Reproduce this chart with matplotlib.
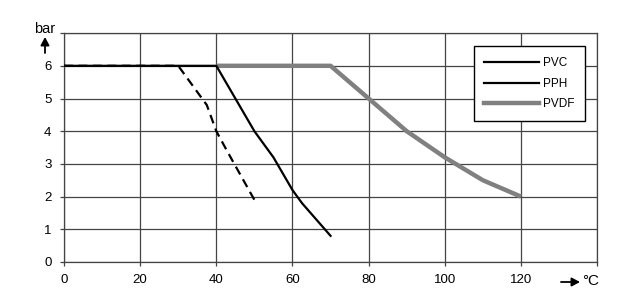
import matplotlib
matplotlib.use("Agg")
from matplotlib import pyplot as plt

plt.rcParams['font.family'] = ['Liberation Sans', 'DejaVu Sans']

# temperature (degC) / pressure (bar) curves
pvc_t = [0, 30, 37.5, 40, 42.8, 50]
pvc_p = [6, 6, 4.8, 4.0, 3.4, 1.9]

pph_t = [0, 40, 45, 50, 55, 60, 62.5, 70]
pph_p = [6, 6, 5.0, 4.0, 3.2, 2.2, 1.8, 0.8]

pvdf_t = [40, 70, 80, 90, 100, 110, 120]
pvdf_p = [6, 6, 5.0, 4.0, 3.2, 2.5, 2.0]

xticks = [0, 20, 40, 60, 80, 100, 120]
yticks = [0, 1, 2, 3, 4, 5, 6]

fig = plt.figure(figsize=(6.4, 3.06), dpi=100)
ax = fig.add_axes([0.1, 0.1438, 0.833, 0.748])

gc = "#444444"
ax.plot(pvdf_t, pvdf_p, color="#808080", lw=3.2, solid_capstyle="butt", zorder=3)
ax.plot(pvc_t, pvc_p, color="black", lw=1.6, ls=(0, (4, 2.5)), zorder=4)
ax.plot(pph_t, pph_p, color="black", lw=1.6, zorder=5)

# legend handles (both black lines are drawn solid in the key)
h1, = ax.plot([], [], color="black", lw=1.6, label="PVC")
h2, = ax.plot([], [], color="black", lw=1.6, label="PPH")
h3, = ax.plot([], [], color="#808080", lw=3.2, label="PVDF")

ax.set_xlim(0, 140)
ax.set_ylim(0, 7)
ax.set_xticks(xticks + [140])
ax.set_xticklabels([str(t) for t in xticks] + [""])
ax.set_yticks(yticks + [7])
ax.set_yticklabels([str(t) for t in yticks] + [""])
ax.grid(True, color=gc, lw=0.9)
ax.set_axisbelow(True)
for s in ax.spines.values():
    s.set_color(gc)
    s.set_linewidth(0.9)
ax.tick_params(length=3, width=0.9, color=gc, labelsize=9.5, pad=6)

leg = ax.legend(handles=[h1, h2, h3], loc="upper right", bbox_to_anchor=(0.978, 0.943),
                frameon=True, fancybox=False, edgecolor="black", framealpha=1,
                fontsize=8.5, handlelength=4.6, borderpad=0.9, labelspacing=0.75,
                handletextpad=0.4, borderaxespad=0)
leg.get_frame().set_linewidth(1.0)

# axis unit labels with arrows (figure pixel coords)
def fx(px):
    return px / 640

def fy(py):
    return 1 - py / 306

fig.text(fx(45), fy(29), "bar", ha="center", va="center", fontsize=10.5)
fig.add_artist(matplotlib.patches.FancyArrowPatch(
    (fx(45), fy(53)), (fx(45), fy(37)), transform=fig.transFigure,
    arrowstyle="-|>,head_length=3,head_width=1.6", mutation_scale=1.6,
    color="black", lw=1.3, shrinkA=0, shrinkB=0))
fig.add_artist(matplotlib.patches.FancyArrowPatch(
    (fx(561), fy(282)), (fx(580), fy(282)), transform=fig.transFigure,
    arrowstyle="-|>,head_length=3,head_width=1.6", mutation_scale=1.6,
    color="black", lw=1.3, shrinkA=0, shrinkB=0))
fig.text(fx(591), fy(281), "\u00b0C", ha="center", va="center", fontsize=11)

fig.savefig("out.png", dpi=100)
